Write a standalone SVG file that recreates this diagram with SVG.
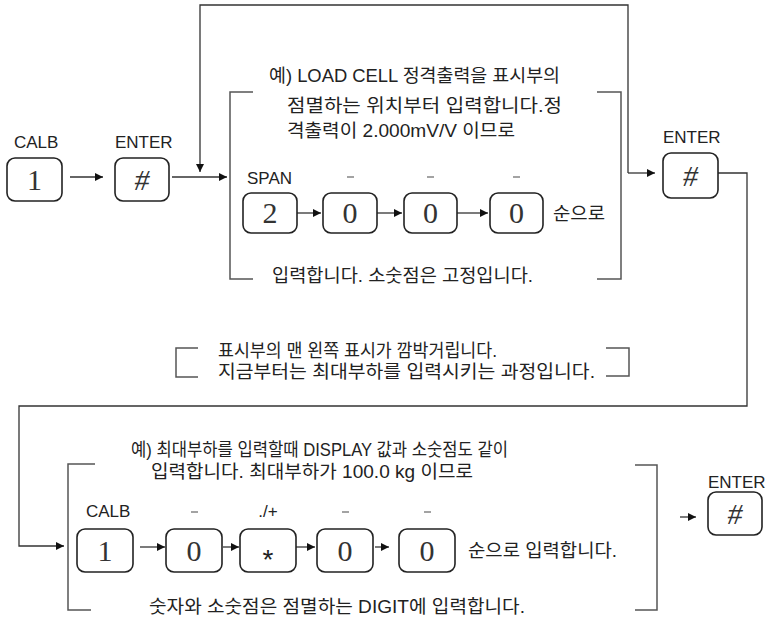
<svg xmlns="http://www.w3.org/2000/svg" width="766" height="621" viewBox="0 0 766 621">
<style>
.key{fill:#fff;stroke:#222;stroke-width:1.6}
.dig{font-family:"Liberation Serif",serif;font-size:30px;fill:#333;text-anchor:middle}
.lbl{font-family:"Liberation Sans",Arial,sans-serif;font-size:17px;fill:#222}
.ast{font-family:"Liberation Sans",Arial,sans-serif;font-size:28px;fill:#222;text-anchor:middle}
.kr{font-family:"Liberation Sans","Noto Sans CJK KR",sans-serif;font-size:18px;fill:#222}
.dash{stroke:#666;stroke-width:1.2}
.br{fill:none;stroke:#555;stroke-width:1.5}
.con{fill:none;stroke:#333;stroke-width:1.3}
</style>
<defs>
<marker id="ah" viewBox="0 0 8 8" refX="8" refY="4" markerWidth="8" markerHeight="8" markerUnits="userSpaceOnUse" orient="auto">
<path d="M0,0 L8,4 L0,8 z" fill="#111"/>
</marker>
</defs>

<g id="connectors">
<path class="con" d="M70,177 H103" marker-end="url(#ah)"/>
<path class="con" d="M172,177 H227" marker-end="url(#ah)"/>
<path class="con" d="M628,173 V5 H200 V172" marker-end="url(#ah)"/>
<path class="con" d="M628,173 H655" marker-end="url(#ah)"/>
<path class="con" d="M297,213 H321" marker-end="url(#ah)"/>
<path class="con" d="M377,213 H402" marker-end="url(#ah)"/>
<path class="con" d="M457,213 H488" marker-end="url(#ah)"/>
<path class="con" d="M718,173 H747 V406 H19 V546 H64" marker-end="url(#ah)"/>
<path class="con" d="M140,547 H165" marker-end="url(#ah)"/>
<path class="con" d="M223,547 H239" marker-end="url(#ah)"/>
<path class="con" d="M296,547 H315" marker-end="url(#ah)"/>
<path class="con" d="M375,547 H389" marker-end="url(#ah)"/>
<path class="con" d="M680,517 H696" marker-end="url(#ah)"/>
</g>

<g id="calb1">
<text class="lbl" x="14" y="148">CALB</text>
<rect class="key" x="7" y="158" width="55" height="43" rx="8"/>
<text class="dig" x="34.5" y="190">1</text>
</g>
<g id="enter1">
<text class="lbl" x="115" y="148">ENTER</text>
<rect class="key" x="115" y="158" width="54" height="43" rx="8"/>
<text class="dig" x="142" y="190" font-style="italic">#</text>
</g>

<g id="span-section">
<path class="br" d="M253,92 H230 V279 H253"/>
<path class="br" d="M597,92 H621 V279 H597"/>
<text class="kr" x="269" y="82" textLength="291" lengthAdjust="spacingAndGlyphs">예) LOAD CELL 정격출력을 표시부의</text>
<text class="kr" x="287" y="112" textLength="275" lengthAdjust="spacingAndGlyphs">점멸하는 위치부터  입력합니다.정</text>
<text class="kr" x="287" y="137" textLength="228" lengthAdjust="spacingAndGlyphs">격출력이 2.000mV/V 이므로</text>
<text class="kr" x="272" y="282" textLength="261" lengthAdjust="spacingAndGlyphs">입력합니다. 소숫점은 고정입니다.</text>
<text class="kr" x="553" y="220" textLength="52" lengthAdjust="spacingAndGlyphs">순으로</text>
</g>
<g id="span2">
<text class="lbl" x="247" y="184">SPAN</text>
<rect class="key" x="243" y="193" width="54" height="40" rx="8"/>
<text class="dig" x="270" y="223">2</text>
</g>
<g id="span0a">
<line class="dash" x1="347" y1="177" x2="354" y2="177"/>
<rect class="key" x="323" y="193" width="54" height="40" rx="8"/>
<text class="dig" x="350" y="223">0</text>
</g>
<g id="span0b">
<line class="dash" x1="427" y1="177" x2="434" y2="177"/>
<rect class="key" x="404" y="193" width="53" height="40" rx="8"/>
<text class="dig" x="430.5" y="223">0</text>
</g>
<g id="span0c">
<line class="dash" x1="513" y1="177" x2="520" y2="177"/>
<rect class="key" x="490" y="193" width="53" height="40" rx="8"/>
<text class="dig" x="516.5" y="223">0</text>
</g>
<g id="enter2">
<text class="lbl" x="663" y="143">ENTER</text>
<rect class="key" x="663" y="153" width="55" height="45" rx="8"/>
<text class="dig" x="690.5" y="186" font-style="italic">#</text>
</g>

<g id="note">
<path class="br" d="M198,348 H176 V377 H198"/>
<path class="br" d="M606,348 H629 V376 H606"/>
<text class="kr" x="218" y="357" textLength="279" lengthAdjust="spacingAndGlyphs">표시부의 맨 왼쪽 표시가 깜박거립니다.</text>
<text class="kr" x="218" y="378" textLength="377" lengthAdjust="spacingAndGlyphs">지금부터는 최대부하를 입력시키는 과정입니다.</text>
</g>

<g id="load-section">
<path class="br" d="M95,464 H68 V610 H91"/>
<path class="br" d="M635,465 H657 V610 H635"/>
<text class="kr" x="131" y="456" textLength="377" lengthAdjust="spacingAndGlyphs">예) 최대부하를 입력할때 DISPLAY 값과 소숫점도 같이</text>
<text class="kr" x="151" y="478" textLength="322" lengthAdjust="spacingAndGlyphs">입력합니다. 최대부하가 100.0 kg 이므로</text>
<text class="kr" x="468" y="557" textLength="149" lengthAdjust="spacingAndGlyphs">순으로 입력합니다.</text>
<text class="kr" x="149" y="613" textLength="376" lengthAdjust="spacingAndGlyphs">숫자와 소숫점은 점멸하는 DIGIT에 입력합니다.</text>
</g>
<g id="load1">
<text class="lbl" x="86" y="517">CALB</text>
<rect class="key" x="77" y="529" width="56" height="43" rx="8"/>
<text class="dig" x="105" y="561">1</text>
</g>
<g id="load0a">
<line class="dash" x1="191" y1="512" x2="198" y2="512"/>
<rect class="key" x="166" y="529" width="56" height="43" rx="8"/>
<text class="dig" x="194" y="561">0</text>
</g>
<g id="loaddot">
<text class="lbl" x="268" y="517" text-anchor="middle">./+</text>
<rect class="key" x="240" y="529" width="56" height="43" rx="8"/>
<text class="ast" x="268" y="569">*</text>
</g>
<g id="load0b">
<line class="dash" x1="342" y1="512" x2="349" y2="512"/>
<rect class="key" x="317" y="529" width="56" height="43" rx="8"/>
<text class="dig" x="345" y="561">0</text>
</g>
<g id="load0c">
<line class="dash" x1="424" y1="512" x2="431" y2="512"/>
<rect class="key" x="399" y="529" width="56" height="43" rx="8"/>
<text class="dig" x="427" y="561">0</text>
</g>
<g id="enter3">
<text class="lbl" x="708" y="488">ENTER</text>
<rect class="key" x="708" y="492" width="54" height="43" rx="8"/>
<text class="dig" x="735" y="524" font-style="italic">#</text>
</g>
</svg>
